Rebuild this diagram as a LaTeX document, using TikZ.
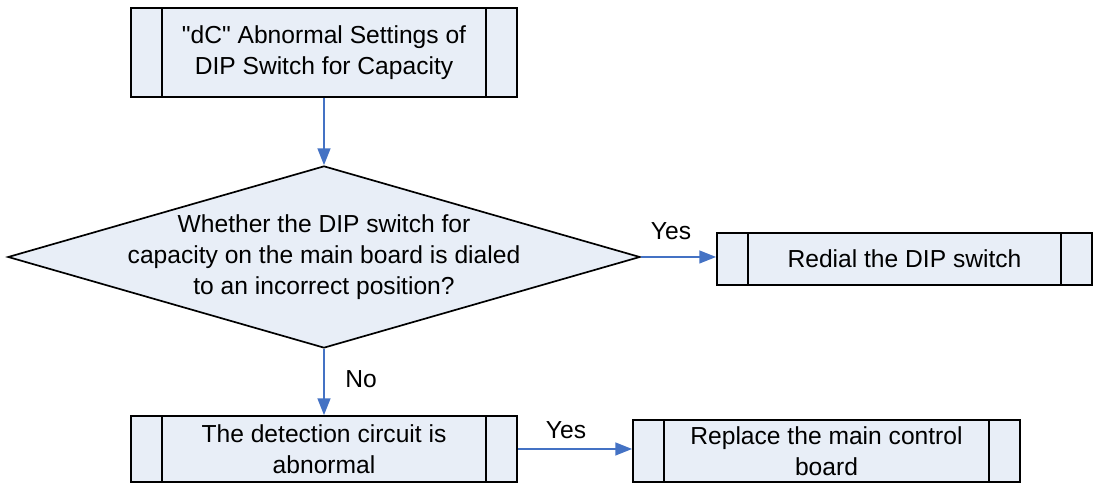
\documentclass[tikz,border=0pt]{standalone}
\usepackage{fontspec}
\setmainfont{Liberation Sans}
\usetikzlibrary{shapes.geometric,arrows.meta}
\definecolor{boxfill}{RGB}{232,238,247}
\definecolor{flowblue}{RGB}{68,114,196}
\begin{document}
\begin{tikzpicture}[x=0.025cm,y=-0.025cm,font=\fontsize{17.5}{22}\selectfont]
    \useasboundingbox (0,0) rectangle (1094,484);
    %%%%%%%%%%%%%%%%%%%%%%%%%%%%%%%%%%%%%% Styles
    \tikzset{
      process/.style={draw=black,line width=1.2pt,fill=boxfill,align=center,
        inner sep=0pt,
        path picture={
          \draw[line width=1.2pt] ([xshift=0.775cm]path picture bounding box.north west)
            -- ([xshift=0.775cm]path picture bounding box.south west);
          \draw[line width=1.2pt] ([xshift=-0.775cm]path picture bounding box.north east)
            -- ([xshift=-0.775cm]path picture bounding box.south east);}},
      decision/.style={diamond,draw=black,line width=1.2pt,fill=boxfill,inner sep=0pt,
        minimum width=15.8cm,minimum height=4.55cm},
      flow/.style={draw=flowblue,line width=1.4pt,-{Triangle[length=0.42cm,width=0.32cm]}}
    }
    %%%%%%%%%%%%%%%%%%%%%%%%%%%%%%%%%%%%%% Boxes
    \node[process,minimum width=9.65cm,minimum height=2.225cm] (start) at (324,52.5)
      {\textquotedbl dC\textquotedbl{} Abnormal Settings of\\DIP Switch for Capacity};
    \node[decision] (dip) at (324,257) {};
    \node[align=center] (diptext) at (dip.center)
      {Whether the DIP switch for\\capacity on the main board is dialed\\to an incorrect position?};
    \node[process,minimum width=9.375cm,minimum height=1.3cm] (redial) at (904.5,259)
      {Redial the DIP switch};
    \node[process,minimum width=9.65cm,minimum height=1.65cm] (circuit) at (324,449)
      {The detection circuit is\\abnormal};
    \node[process,minimum width=9.675cm,minimum height=1.55cm] (replace) at (826.5,451)
      {Replace the main control\\board};

    %%%%%%%%%%%%%%%%%%%%%%%%%%%%%%%%%%%%%% Arrows
    \draw[flow] (start.south) -- (dip.north);
    \draw[flow] (dip.east) -- (dip.east -| redial.west);
    \draw[flow] (dip.south) -- (circuit.north);
    \draw[flow] (circuit.east) -- (circuit.east -| replace.west);

    \node (yes1) at (671,231) {Yes};
    \node (no) at (361,379) {No};
    \node (yes2) at (566,430) {Yes};
\end{tikzpicture}
\end{document}
